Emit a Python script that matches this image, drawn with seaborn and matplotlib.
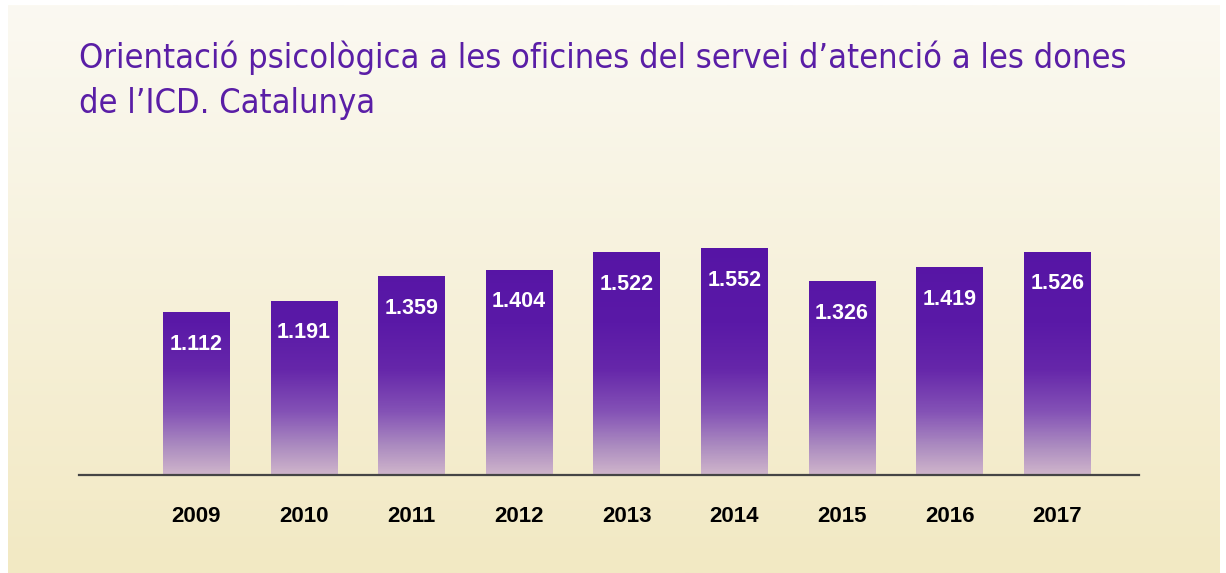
import numpy as np
import pandas as pd
import matplotlib
matplotlib.use('Agg')
import matplotlib.pyplot as plt
from matplotlib.colors import LinearSegmentedColormap, Normalize
import seaborn as sns

# values
years = ['2009', '2010', '2011', '2012', '2013', '2014', '2015', '2016', '2017']
values = [1112, 1191, 1359, 1404, 1522, 1552, 1326, 1419, 1526]
value_labels = ['1.112', '1.191', '1.359', '1.404', '1.522', '1.552', '1.326', '1.419', '1.526']
title_lines = ["Orientació psicològica a les oficines del servei d’atenció a les dones",
               "de l’ICD. Catalunya"]

sns.set_theme(style='white')
plt.rcParams['font.family'] = ['Liberation Sans', 'DejaVu Sans']

W, H = 1226, 573
fig = plt.figure(figsize=(W / 100, H / 100), dpi=100)
fig.patch.set_facecolor('white')

# cream background panel with a soft vertical gradient
bg = fig.add_axes([0, 0, 1, 1], zorder=0)
bg.set_xlim(0, W)
bg.set_ylim(H, 0)
bg.axis('off')
bg_cmap = LinearSegmentedColormap.from_list('bg', ['#fbf9f2', '#f2e9c3'])
bg.imshow(np.linspace(0, 1, 256).reshape(-1, 1), cmap=bg_cmap, aspect='auto',
          extent=[8, 1220, 573, 5])

# bar chart
ax = fig.add_axes([79 / W, (H - 475) / H, (1139 - 79) / W, 275 / H], zorder=1)
ax.patch.set_alpha(0)
df = pd.DataFrame({'year': years, 'value': values})
sns.barplot(data=df, x='year', y='value', width=0.62, color='#5614a5',
            linewidth=0, ax=ax)

# purple bars fading towards the baseline
bar_cmap = LinearSegmentedColormap.from_list(
    'bar', [(0.0, '#cfb5cb'), (0.12, '#ac8cc0'), (0.27, '#8452b6'),
            (0.45, '#6627aa'), (0.65, '#5a19a7'), (1.0, '#5614a5')])
norm = Normalize(0, 1600)
for p, lab in zip(ax.patches, value_labels):
    x0, w, h = p.get_x(), p.get_width(), p.get_height()
    grad = np.linspace(0, h, 300).reshape(-1, 1)
    ax.imshow(grad, cmap=bar_cmap, norm=norm, aspect='auto', origin='lower',
              extent=[x0, x0 + w, 0, h], zorder=2)
    ax.annotate(lab, (x0 + w / 2, h), xytext=(0, -37), textcoords='offset pixels',
                ha='center', va='baseline', color='white', fontsize=15.5,
                fontweight='bold', zorder=3)

ax.set_xlim(-1.09, 8.76)
ax.set_ylim(0, 1885)
ax.set_xlabel('')
ax.set_ylabel('')
ax.set_yticks([])
ax.tick_params(axis='x', length=0, pad=22.5, labelsize=16, labelcolor='black')
for t in ax.get_xticklabels():
    t.set_fontweight('bold')
for s in ['top', 'left', 'right']:
    ax.spines[s].set_visible(False)
ax.spines['bottom'].set_color('#454545')
ax.spines['bottom'].set_linewidth(1.6)

# title in two lines
for i, line in enumerate(title_lines):
    fig.text(79 / W, 1 - (68 + 45 * i) / H, line, ha='left', va='baseline',
             fontsize=24.7, color='#5a1ea6', fontstretch='condensed',
             family=['DejaVu Sans'])

fig.savefig('out.png', dpi=100, facecolor='white')
